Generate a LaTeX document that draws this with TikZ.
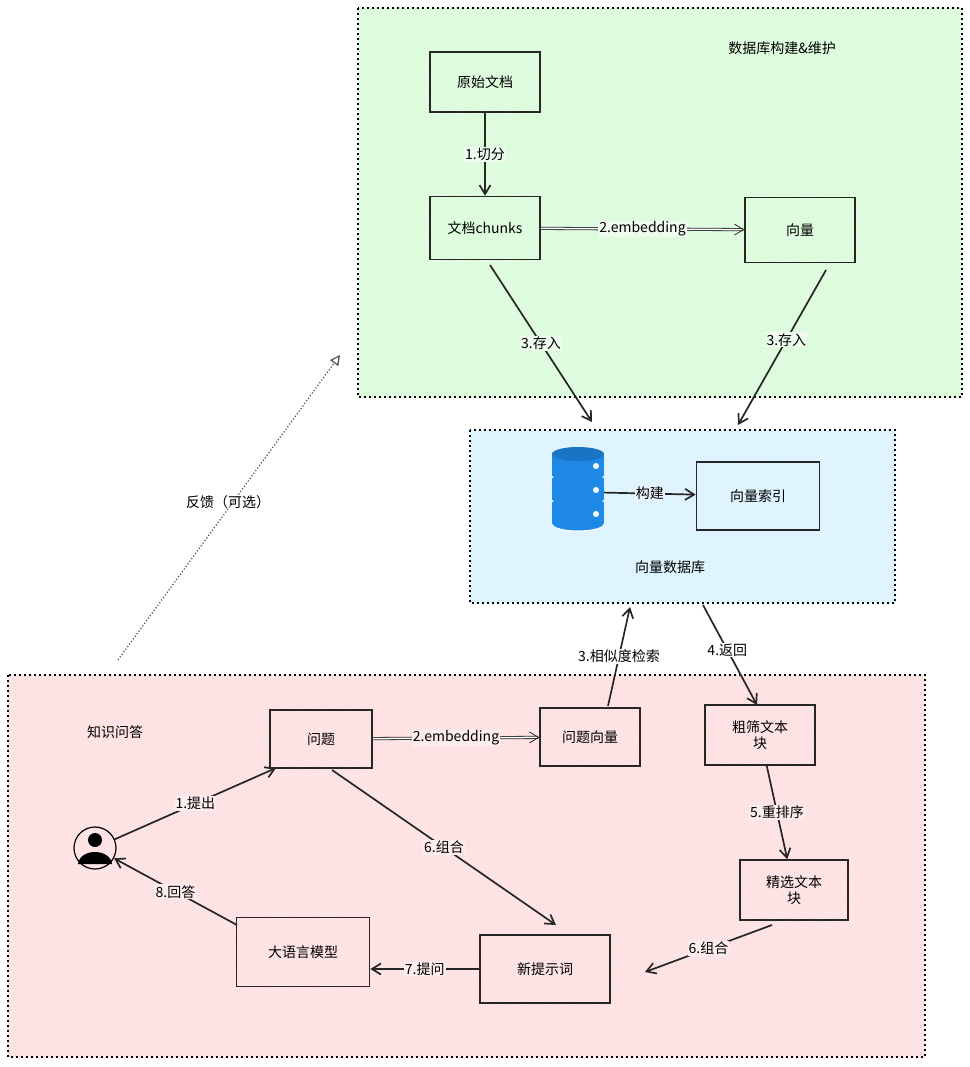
\documentclass[tikz,border=0pt]{standalone}
\usepackage{fontspec}
\setmainfont{Noto Sans CJK SC}
\usetikzlibrary{arrows.meta,patterns}
\definecolor{gbg}{HTML}{EEFBEE}
\definecolor{bbg}{HTML}{EAF4FD}
\definecolor{rbg}{HTML}{FDEDEE}
\definecolor{dbc}{HTML}{1E88E5}
\begin{document}
\begin{tikzpicture}[x=1pt,y=-1pt,
 box/.style={draw=black!85,line width=1.6pt,minimum width=#1,minimum height=60pt,align=center,font=\fontsize{14}{16}\selectfont},
 box/.default=110pt,
 arr/.style={draw=black!85,line width=1.7pt,-{Straight Barb[length=9pt,width=11pt]}},
 lab/.style={font=\fontsize{14}{16}\selectfont,inner sep=1pt},
 region/.style={line width=1.1pt,dash pattern=on 2pt off 3pt}]
\useasboundingbox (0,0) rectangle (969,1067);
\fill[gbg] (358,8) rectangle (962,397);
\fill[pattern=north east lines,pattern color=green!25!white] (358,8) rectangle (962,397);
\draw[region] (358,8) rectangle (962,397);
\fill[bbg] (470,430) rectangle (895,603);
\fill[pattern=north east lines,pattern color=blue!18!cyan!22!white] (470,430) rectangle (895,603);
\draw[region] (470,430) rectangle (895,603);
\fill[rbg] (8,675) rectangle (925,1057);
\fill[pattern=north east lines,pattern color=red!18!white] (8,675) rectangle (925,1057);
\draw[region] (8,675) rectangle (925,1057);
\node[lab] (t1) at (782,48) {数据库构建\&维护};
\node[lab] (t2) at (670,567) {向量数据库};
\node[lab] (t3) at (115,732) {知识问答};

\node[box] (yswd) at (485,82) {原始文档};
\node[box,minimum height=63pt] (chunks) at (485,228) {文档chunks};
\node[box,minimum height=65pt] (xl) at (800,230) {向量};
\node[box=123pt,minimum height=68pt] (idx) at (758,496) {向量索引};
\node[box=102pt,minimum height=58pt] (wt) at (321,739) {问题};
\node[box=100pt,minimum height=58pt] (wtxl) at (590,737) {问题向量};
\node[box,minimum height=60pt] (cs) at (760,735) {粗筛文本\\块};
\node[box=108pt,minimum height=60pt] (jx) at (794,890) {精选文本\\块};
\node[box=130pt,minimum height=68pt] (xts) at (545,969) {新提示词};
\node[box=133pt,minimum height=69pt] (llm) at (303,952) {大语言模型};

% database icon
\node[minimum width=52pt,minimum height=76pt,inner sep=0] (db) at (578,492) {};
\foreach \yy in {470,494,518}{
 \fill[dbc] (552,\yy-16) rectangle (604,\yy+6);
 \fill[dbc] (578,\yy+6) ellipse (26 and 7);
 \draw[white,line width=1pt] (552,\yy+6) arc (180:0:26 and 7);
 \fill[white] (596,\yy-4) circle (3);
}
\fill[dbc!85!black] (578,454) ellipse (26 and 7);
% user icon
\node[circle,draw,line width=1.2pt,minimum size=42pt,inner sep=0] (user) at (95,848) {};
\fill (95,840) circle (7);
\fill (78,864) .. controls (80,848) and (110,848) .. (112,864) -- cycle;

\draw[arr] (yswd) -- node[lab,fill=gbg]{1.切分} (chunks);
\draw[arr,double,double distance=1.5pt,line width=0.8pt] (chunks) -- node[lab,fill=gbg]{2.embedding} (xl);
\coordinate (c1) at (490,265); \coordinate (c2) at (592,422);
\draw[arr] (c1) -- node[lab,fill=gbg]{3.存入} (c2);
\coordinate (c3) at (826,270); \coordinate (c4) at (738,425);
\draw[arr] (c3) -- node[lab,fill=gbg,pos=0.45]{3.存入} (c4);
\draw[arr] (db) -- node[lab,fill=bbg]{构建} (idx);
\coordinate (c5) at (608,706); \coordinate (c6) at (630,607);
\draw[arr] (c5) -- node[lab,fill=white,pos=0.5]{3.相似度检索} (c6);
\coordinate (c7) at (703,605); \coordinate (c8) at (757,705);
\draw[arr] (c7) -- node[lab,fill=white,pos=0.45]{4.返回} (c8);
\draw[arr,double,double distance=1.5pt,line width=0.8pt] (wt) -- node[lab,fill=rbg]{2.embedding} (wtxl);
\draw[arr] (cs) -- node[lab,fill=rbg]{5.重排序} (jx);
\coordinate (c9) at (772,925); \coordinate (c10) at (645,972);
\draw[arr] (c9) -- node[lab,fill=rbg]{6.组合} (c10);
\coordinate (c11) at (332,770); \coordinate (c12) at (556,925);
\draw[arr] (c11) -- node[lab,fill=rbg]{6.组合} (c12);
\draw[arr] (xts) -- node[lab,fill=rbg]{7.提问} (llm.east |- xts);
\coordinate (c13) at (237,925);
\draw[arr] (c13) -- node[lab,fill=rbg]{8.回答} (user);
\coordinate (c14) at (276,768);
\draw[arr] (user) -- node[lab,fill=rbg]{1.提出} (c14);
\coordinate (f1) at (118,660); \coordinate (f2) at (340,355);
\draw[line width=1.2pt,dotted,draw=black!70,-{Triangle[open,length=10pt,width=10pt]}] (f1) -- (f2);
\node[lab] (fk) at (228,502) {反馈（可选）};
\end{tikzpicture}
\end{document}
